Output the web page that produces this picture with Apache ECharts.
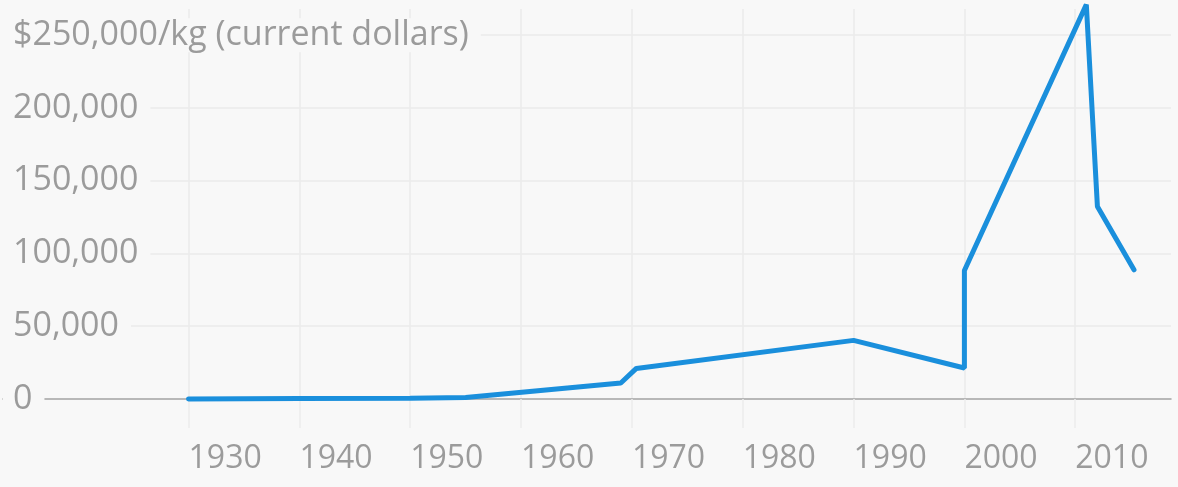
<!DOCTYPE html>
<html>
<head>
<meta charset="utf-8">
<script src="https://cdn.jsdelivr.net/npm/echarts@6/dist/echarts.min.js"></script>
<style>
  html, body { margin: 0; padding: 0; background: #f8f8f8; }
  #chart { width: 1178px; height: 487px; }
</style>
</head>
<body>
<div id="chart"></div>
<script>
// years and price per kg
var years = [1930, 1940, 1950, 1955, 1969, 1970.4, 1990, 2000, 2000, 2011, 2012, 2015.3]
var prices = [0, 300, 600, 1000, 11000, 21000, 40300, 21300, 88300, 271000, 132300, 88800]
var yearTicks = [1930, 1940, 1950, 1960, 1970, 1980, 1990, 2000, 2010]

var points = []
for (var i = 0; i < years.length; i++) {
  points.push([years[i], prices[i]])
}

var fontFamily = 'Open Sans'
var textColor = '#9b9b9b'
var gridColor = '#ebebeb'

var chart = echarts.init(document.getElementById('chart'))
chart.setOption({
  backgroundColor: '#f8f8f8',
  animation: false,
  grid: {
    left: 0,
    right: 7,
    top: 9,
    bottom: 88
  },
  xAxis: {
    type: 'value',
    min: 1913.26,
    max: 2018.64,
    axisLine: {
      show: true,
      onZero: true,
      lineStyle: { color: '#a3a3a3', width: 1.5 }
    },
    axisTick: {
      show: true,
      length: 29,
      customValues: yearTicks,
      lineStyle: { color: gridColor, width: 1.5 }
    },
    axisLabel: {
      customValues: yearTicks,
      align: 'left',
      margin: 44,
      color: textColor,
      fontFamily: fontFamily,
      fontSize: 32,
      formatter: function (v) { return String(v) }
    },
    splitLine: {
      show: true,
      lineStyle: { color: gridColor, width: 1.5 }
    }
  },
  yAxis: {
    type: 'value',
    min: 0,
    max: 268000,
    interval: 50000,
    axisLine: { show: false },
    axisTick: { show: false },
    axisLabel: {
      inside: true,
      showMaxLabel: false,
      margin: 0,
      align: 'left',
      color: textColor,
      fontFamily: fontFamily,
      fontSize: 34,
      backgroundColor: '#f8f8f8',
      padding: [0, 12, 0, 10],
      formatter: function (v) {
        var s = v.toLocaleString('en-US')
        if (v === 250000) return '$' + s + '/kg (current dollars)'
        return s
      }
    },
    splitLine: {
      show: true,
      showMinLine: false,
      showMaxLine: false,
      lineStyle: { color: gridColor, width: 1.5 }
    }
  },
  series: [
    {
      type: 'line',
      data: points,
      showSymbol: false,
      clip: false,
      lineStyle: { color: '#1a8fdc', width: 5, cap: 'round' }
    }
  ]
})
</script>
</body>
</html>
